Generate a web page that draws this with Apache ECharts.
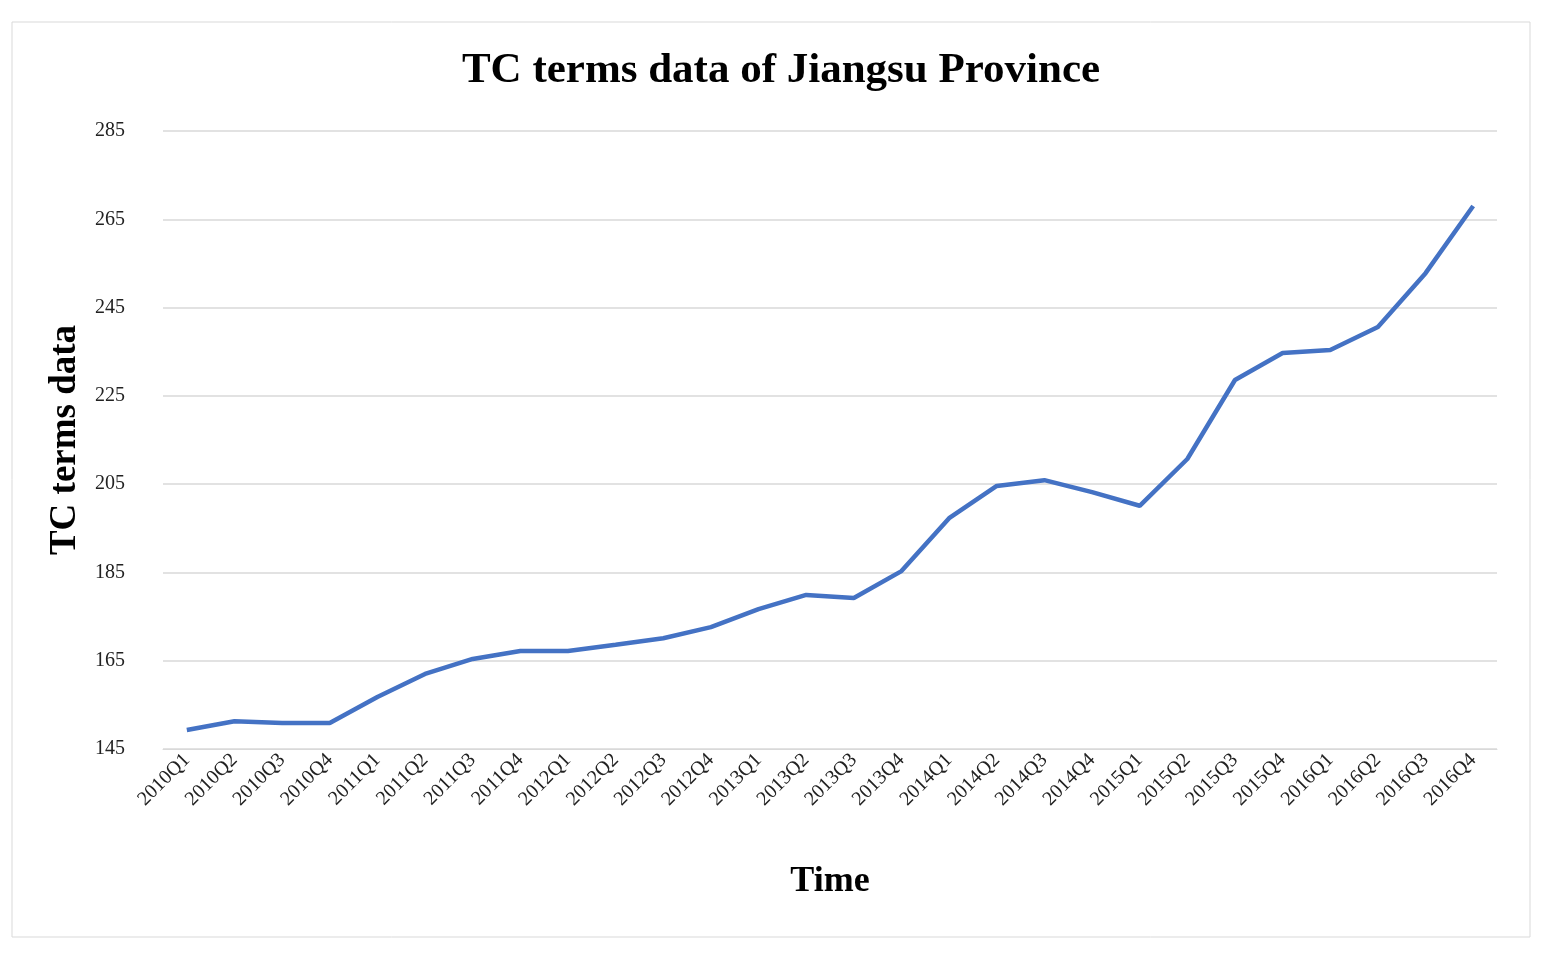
<!DOCTYPE html>
<html><head><meta charset="utf-8">
<script src="https://cdn.jsdelivr.net/npm/echarts@6/dist/echarts.min.js"></script>
<style>html,body{margin:0;background:#fff}#c{width:1562px;height:958px}</style>
</head><body><div id="c"></div>
<script>
const categories=['2010Q1','2010Q2','2010Q3','2010Q4','2011Q1','2011Q2','2011Q3','2011Q4','2012Q1','2012Q2','2012Q3','2012Q4','2013Q1','2013Q2','2013Q3','2013Q4','2014Q1','2014Q2','2014Q3','2014Q4','2015Q1','2015Q2','2015Q3','2015Q4','2016Q1','2016Q2','2016Q3','2016Q4'];
const tcValues=[149.3,151.3,150.9,150.9,156.8,162.0,165.4,167.2,167.2,168.6,170.1,172.6,176.7,179.9,179.2,185.3,197.3,204.6,205.9,203.2,200.1,210.7,228.6,234.7,235.4,240.6,252.8,268.0];
const F='"Liberation Serif","Times New Roman",serif';
const chart=echarts.init(document.getElementById('c'));
chart.setOption({
  animation:false,
  graphic:[{type:'rect',shape:{x:12,y:22,width:1518,height:915},style:{fill:null,stroke:'#d9d9d9',lineWidth:1}}],
  title:{text:'TC terms data of Jiangsu Province',left:'center',top:44,textStyle:{fontFamily:F,fontSize:43,fontWeight:'bold',color:'#000'}},
  grid:{left:163,right:65,top:131,bottom:209},
  xAxis:{type:'category',data:categories,boundaryGap:true,
    name:'Time',nameLocation:'middle',nameGap:115,nameTextStyle:{fontFamily:F,fontSize:36,fontWeight:'bold',color:'#000'},
    axisLine:{lineStyle:{color:'#d9d9d9'}},axisTick:{show:false},
    axisLabel:{rotate:45,interval:0,fontFamily:F,fontSize:20,color:'#222',margin:8}},
  yAxis:{type:'value',min:145,max:285,interval:20,
    name:'TC terms data',nameLocation:'middle',nameGap:76,nameTextStyle:{fontFamily:F,fontSize:37,fontWeight:'bold',color:'#000'},
    axisLine:{show:false},axisTick:{show:false},
    splitLine:{lineStyle:{color:'#d9d9d9',width:1.5}},
    axisLabel:{fontFamily:F,fontSize:20,color:'#222',margin:38}},
  series:[{type:'line',data:tcValues,symbol:'none',lineStyle:{color:'#4472c4',width:4.5}}]
});
</script></body></html>
